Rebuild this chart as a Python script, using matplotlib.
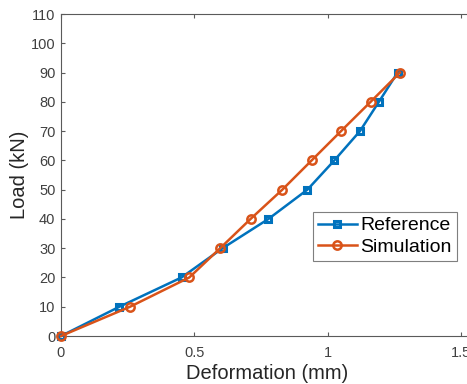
import matplotlib
matplotlib.use("Agg")
import matplotlib.pyplot as plt

plt.rcParams['font.family'] = ['Liberation Sans', 'DejaVu Sans']

load = [0, 10, 20, 30, 40, 50, 60, 70, 80, 90]
ref_def = [0, 0.219, 0.452, 0.606, 0.778, 0.924, 1.025, 1.121, 1.192, 1.262]
sim_def = [0, 0.259, 0.481, 0.597, 0.711, 0.830, 0.940, 1.050, 1.161, 1.271]
xticks = [0, 0.5, 1, 1.5]
xticklabels = ['0', '0.5', '1', '1.5']
yticks = list(range(0, 111, 10))

blue = '#0072BD'
orange = '#D95319'
axc = '#5a5a5a'

W, H = 467, 384
fig = plt.figure(figsize=(W / 100, H / 100), dpi=100)
left = 61 / W
bottom = 48 / H
height = 322 / H
xmax = 1.6
width = (266.7 * xmax) / W
ax = fig.add_axes([left, bottom, width, height])

ax.plot(ref_def, load, '-s', color=blue, lw=1.8, ms=4.3, mew=2.2,
        mfc='none', mec=blue, label='Reference', clip_on=False, zorder=3)
ax.plot(sim_def, load, '-o', color=orange, lw=1.8, ms=6.0, mew=1.8,
        mfc='none', mec=orange, label='Simulation', clip_on=False, zorder=4)

ax.set_xlim(0, xmax)
ax.set_ylim(0, 110)
ax.set_xticks(xticks)
ax.set_xticklabels(xticklabels)
ax.set_yticks(yticks)
ax.tick_params(direction='in', length=3, width=0.8, colors=axc,
               labelsize=10.5, top=True, right=False)
ax.tick_params(axis='x', pad=7)
ax.tick_params(axis='y', pad=4)
ax.xaxis.set_tick_params(labelcolor='#404040')
ax.yaxis.set_tick_params(labelcolor='#404040')
for s in ax.spines.values():
    s.set_color(axc)
    s.set_linewidth(0.8)
ax.spines['right'].set_visible(False)

ax.set_xlabel('Deformation (mm)', fontsize=14.5, color='#262626')
ax.set_ylabel('Load (kN)', fontsize=14.5, color='#262626')
ax.xaxis.set_label_coords((267 - 61) / (266.7 * xmax), -(364 - 336) / 322)
ax.yaxis.set_label_coords(-(61 - 29) / (266.7 * xmax), (336 - 175) / 322)

leg = ax.legend(loc='upper right', bbox_to_anchor=(456.7 / W, 1 - 212 / H),
                bbox_transform=fig.transFigure, fontsize=14, frameon=True,
                fancybox=False, framealpha=1, edgecolor='#7f7f7f',
                handlelength=2.0, handletextpad=0.2, borderpad=0.25,
                labelspacing=0.2, borderaxespad=0)
leg.get_frame().set_linewidth(0.8)

fig.savefig('out.png', dpi=100)
